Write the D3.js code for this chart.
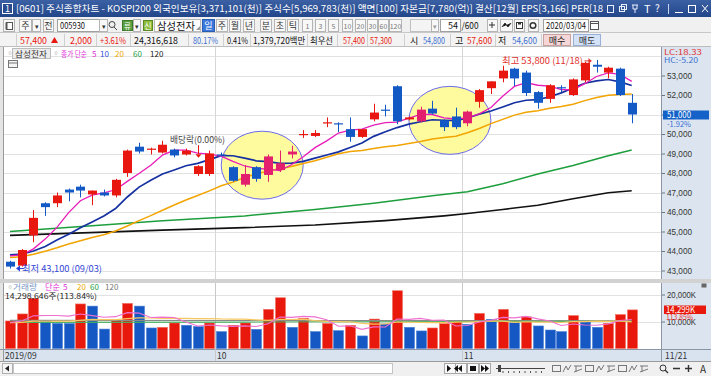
<!DOCTYPE html>
<html>
<head>
<meta charset="utf-8">
<script src="https://cdn.jsdelivr.net/npm/d3@7"></script>
<style>
  body { margin: 0; background: #fff; }
  svg text { font-family: "Noto Sans CJK KR", "Liberation Sans", sans-serif; }
</style>
</head>
<body>
<div id="chart"></div>
<script>
// daily candles 2019/09/03 - 2019/11/21 (005930)
var opens  = [43450,43250,44800,46450,46450,47150,47300,46900,47000,46850,48000,49350,49200,49050,49200,48950,47950,47950,48950,48300,
              47400,48300,47900,48150,48950,49950,49900,50550,50550,50250,49850,50750,51250,52450,50750,50650,51300,50700,50900,50550,
              51650,52350,52850,53350,53150,52150,51800,52400,52000,52750,53550,53150,53350,51600];
var highs  = [43500,44100,46100,46500,47000,47200,47400,47100,47150,47700,49200,49550,49300,49650,49250,49250,48400,49150,49050,48350,
              48400,48350,48950,49150,49400,50200,50200,50850,50600,50850,50250,51550,51500,52500,50900,51400,51700,50750,51350,51200,
              52300,52700,53500,53400,53250,52200,52550,52500,52850,53700,53800,53450,53400,52050];
var lows   = [43100,43200,44450,45800,46250,46550,46750,46350,46800,46750,47800,49000,48950,49000,48800,48900,47850,47850,48850,47550,
              47300,47550,47550,48050,48750,49800,49850,50350,50100,49600,49800,50650,50900,50500,50700,50600,51000,50150,50250,50400,
              51350,52050,52650,52450,51950,51300,51600,52150,51950,52650,53150,52850,51950,50550];
var closes = [43200,44050,45700,46250,46850,47000,47100,47100,46850,47650,49150,49100,49250,49450,48900,49150,48350,49000,48900,47600,
              47950,47700,48850,48500,49100,50000,50050,50600,50500,49850,50250,51100,51200,50650,50850,51250,51050,50350,50350,51150,
              52250,52700,53250,52850,52100,51600,52500,52350,52800,53650,53450,53400,52000,51000];
// volume, thousand shares
var volumes = [10200,12800,18600,10100,9300,9250,16500,15700,7200,10300,16700,15700,7600,7850,9450,8600,8100,9450,6250,8600,
               9450,7100,14500,18800,7850,11200,6250,9300,6600,8600,4650,10900,9100,21400,7850,6500,7600,9200,10400,8950,
               13000,10800,14500,9550,11700,8350,6850,6250,12200,9800,7850,9300,12560,14299];
// sessions before the window (estimated), only used to seed the short averages
var priorCloses  = [43150,43300,43050,43400,43150,43600,43900,44000,43750,44000,43700,44050,43900,43600,44000,43800,44150,43750,43850];
var priorVolumes = [11200,9800,10500,8900,9400,10100,9300,9000,9850,9600,9500,8800,10200,9100,8950,9800,8900,9600,9300];
// long averages: [session index, value]
var ma60Pts  = [[0,45000],[7,45300],[13,45550],[20,45800],[26,46130],[31,46450],[36,46830],[39,47040],[42,47450],[45,47950],[48,48380],[51,48880],[53,49180]];
var ma120Pts = [[0,44800],[13,45070],[20,45200],[26,45330],[32,45560],[37,45800],[39,45920],[42,46130],[45,46350],[48,46680],[51,46990],[53,47090]];
var volMa60Pts  = [[0,9700],[20,9800],[40,10000],[53,10100]];
var volMa120Pts = [[0,10450],[27,10350],[53,10250]];

var monthTicks = [{i:0, label:"2019/09"}, {i:18, label:"10"}, {i:39, label:"11"}];
var lastDate = "11/21";
var priceGrid = [43000,44000,45000,46000,47000,48000,49000,50000,51000,52000,53000,54000];
var priceLabels = [43000,44000,45000,46000,47000,48000,49000,50000,52000,53000];
var volLabels = [10000,20000];
var highlights = [{i:21.5, p:48400}, {i:37.5, p:50700}];
var lowMark = {i:0, p:43100, text:"최저 43,100 (09/03)"};
var highMark = {i:50, p:53800, text:"최고 53,800 (11/18)"};
var exDiv = {i:16, text:"배당락(0.00%)"};

var W = 711, H = 376;
var RED = "#e8170f", BLUE = "#1259c6", PINK = "#e3206e";

var svg = d3.select("#chart").append("svg")
  .attr("width", W).attr("height", H);

function label(g, x, y, s, o) {
  o = o || {};
  var t = g.append("text")
    .attr("x", x).attr("y", y)
    .attr("font-size", o.size || 9)
    .attr("fill", o.color || "#222")
    .attr("text-anchor", o.anchor || "start")
    .text(s);
  if (o.w) t.attr("textLength", o.w).attr("lengthAdjust", "spacingAndGlyphs");
  if (o.bold) t.attr("font-weight", "bold");
  return t;
}
function rect(g, x, y, w, h, fill, stroke) {
  return g.append("rect").attr("x", x).attr("y", y).attr("width", w).attr("height", h)
    .attr("fill", fill || "none").attr("stroke", stroke || "none");
}
function hline(g, x1, x2, y, c) {
  return g.append("line").attr("x1", x1).attr("x2", x2).attr("y1", y).attr("y2", y).attr("stroke", c);
}
function vline(g, x, y1, y2, c) {
  return g.append("line").attr("x1", x).attr("x2", x).attr("y1", y1).attr("y2", y2).attr("stroke", c);
}

// ---------- window title ----------
var grad = svg.append("defs").append("linearGradient").attr("id", "tg")
  .attr("x1", 0).attr("x2", 0).attr("y1", 0).attr("y2", 1);
grad.append("stop").attr("offset", 0).attr("stop-color", "#3c60a4");
grad.append("stop").attr("offset", 1).attr("stop-color", "#23468a");
rect(svg, 0, 0, W, 17, "url(#tg)");
rect(svg, 2.5, 3.5, 10, 10, "#2a4c8e", "#fff");
label(svg, 7.5, 12, "1", {color:"#fff", size:9, anchor:"middle"});
label(svg, 16, 12, "[0601] 주식종합차트 - KOSPI200 외국인보유[3,371,101(천)] 주식수[5,969,783(천)] 액면[100] 자본금[7,780(억)] 결산[12월] EPS[3,166] PER[18",
  {color:"#fff", size:9.5, w:587});
var ic = svg.append("g").attr("stroke", "#fff").attr("fill", "none");
rect(ic, 607.5, 5.5, 6, 7, "none", "#e8eefc");
rect(ic, 619.5, 6.5, 5, 5, "none", "#e8eefc"); rect(ic, 621.5, 4.5, 5, 5, "none", "#e8eefc");
ic.append("path").attr("d", "M632,5 L638,5 M633,5 L633,9 L637,9 L637,5 M635,9 L635,13").attr("stroke", "#e8eefc");
label(svg, 644, 13, "T", {color:"#fff", size:11});
label(svg, 655, 12, "?", {color:"#fff", size:10});
vline(svg, 668.5, 4, 14, "#c8d4ee");
hline(svg, 675, 683, 12.5, "#fff");
rect(svg, 688.5, 5.5, 7, 7, "none", "#fff");
ic.append("path").attr("d", "M702,5 L708,12 M708,5 L702,12");

// ---------- toolbar ----------
rect(svg, 0, 17, W, 16, "#f0f0f0");
hline(svg, 0, W, 32.5, "#c8c8c8");
var tb = svg.append("g");
function btn(x, w, s, o) {
  o = o || {};
  rect(tb, x + 0.5, 19.5, w, 12, o.fill || "#f8f8f8", o.stroke || "#b4b4b4");
  if (s) label(tb, x + w / 2 + 0.5, 29, s, {anchor:"middle", size:o.size || 9, color:o.color || "#333"});
}
btn(3, 11, "");
rect(tb, 6.5, 22.5, 6, 7, "#fff", "#555"); rect(tb, 5.5, 22.5, 2, 7, "#555");
btn(19, 12, "주"); btn(32, 8, "▾", {size:7});
btn(43, 10, "전");
rect(tb, 57.5, 19.5, 50, 12, "#fff", "#a0a0a0");
label(tb, 60, 29, "005930", {size:9, color:"#111", w:25});
btn(99, 8, "▾", {size:7});
tb.append("circle").attr("cx", 112).attr("cy", 24.5).attr("r", 3).attr("fill", "none").attr("stroke", "#444");
tb.append("line").attr("x1", 114).attr("y1", 27).attr("x2", 117).attr("y2", 30).attr("stroke", "#444");
rect(tb, 122.5, 20.5, 10, 10, "#5aa040", "#3c7a2a");
label(tb, 127.5, 29, "류", {anchor:"middle", size:7.5, color:"#fff"});
btn(133, 7, "▾", {size:7});
rect(tb, 143.5, 20.5, 9, 10, "#8cbc3c", "#5c8a20");
label(tb, 148, 29, "신", {anchor:"middle", size:8, color:"#fff"});
rect(tb, 154.5, 19.5, 46, 12, "#fff", "#b8b8b8");
label(tb, 157, 29.5, "삼성전자", {size:10, color:"#111", w:38});
tb.append("path").attr("d", "M196,30 L200,26 L200,30 Z").attr("fill", "#999");
btn(202, 12, "일", {fill:"#3a78dc", stroke:"#2a5cb0", color:"#fff"});
[["주",216],["월",229],["년",243],["분",260],["초",274],["틱",287]].forEach(function(b) { btn(b[1], 11, b[0], {size:9}); });
[["1",302],["3",315],["5",328],["10",342],["20",355],["30",367],["60",378],["120",389]].forEach(function(b) {
  btn(b[1], b[0].length > 2 ? 12 : 10, b[0], {size:7, color:"#777"});
});
rect(tb, 410.5, 19.5, 21, 12, "#f4f4f4", "#c0c0c0");
btn(431, 7, "▾", {size:7, color:"#999"});
rect(tb, 440.5, 19.5, 20, 12, "#fff", "#a0a0a0");
label(tb, 458, 29, "54", {anchor:"end", size:9, color:"#111"});
label(tb, 461.5, 29, "/600", {size:9, color:"#111", w:17});
btn(487, 10, ""); btn(500, 12, ""); btn(514, 10, ""); btn(528, 10, "");
tb.append("path").attr("d", "M489,25 L495,25 M492,22 L492,28 M502,27 L505,23 L508,27 L511,23").attr("stroke", "#333");
rect(tb, 516.5, 22.5, 6, 6, "none", "#333"); rect(tb, 518, 22.5, 3, 2, "#333");
tb.append("circle").attr("cx", 533).attr("cy", 25.5).attr("r", 2.8).attr("fill", "none").attr("stroke", "#333").attr("stroke-width", 1.5);
rect(tb, 543.5, 19.5, 45, 12, "#fff", "#a0a0a0");
label(tb, 546, 29, "2020/03/04", {size:9, color:"#111", w:40});
rect(tb, 590.5, 21.5, 8, 8, "#fff", "#555"); hline(tb, 591, 598, 23.5, "#555");

// ---------- quote row ----------
rect(svg, 0, 33, W, 14, "#f3f3f3");
hline(svg, 0, W, 46.5, "#bdbdbd");
var qr = svg.append("g");
[16, 64, 96, 130, 188, 223, 250, 307, 337, 367, 404, 450, 495, 541].forEach(function(x) { vline(qr, x + 0.5, 34, 46, "#d0d0d0"); });
label(qr, 20, 43.5, "57,400", {color:RED, size:9, w:27});
qr.append("path").attr("d", "M51,43 L58,43 L54.5,37 Z").attr("fill", RED);
label(qr, 70, 43.5, "2,000", {color:RED, size:9, w:22});
label(qr, 100, 43.5, "+3.61%", {color:RED, size:9, w:26});
label(qr, 134, 43.5, "24,316,618", {color:"#111", size:9, w:44});
label(qr, 193, 43.5, "80.17%", {color:"#3b6fd0", size:9, w:25});
label(qr, 227, 43.5, "0.41%", {color:"#111", size:9, w:21});
label(qr, 253, 43.5, "1,379,720백만", {color:"#111", size:9, w:52});
label(qr, 310, 43.5, "최우선", {color:"#111", size:9, w:23});
label(qr, 343, 43.5, "57,400", {color:RED, size:9, w:22});
label(qr, 370, 43.5, "57,300", {color:RED, size:9, w:22});
label(qr, 410, 43.5, "시", {color:"#111", size:9});
label(qr, 423, 43.5, "54,800", {color:"#3b6fd0", size:9, w:22});
label(qr, 455, 43.5, "고", {color:"#111", size:9});
label(qr, 467, 43.5, "57,600", {color:RED, size:9, w:25});
label(qr, 498, 43.5, "저", {color:"#111", size:9});
label(qr, 512, 43.5, "54,600", {color:"#3b6fd0", size:9, w:25});
rect(qr, 543.5, 34.5, 27, 11, "#f6d6d6", "#c8a0a0");
label(qr, 557, 43.5, "매수", {anchor:"middle", color:"#222", size:9});
rect(qr, 573.5, 34.5, 27, 11, "#d4e2f8", "#9ab0d8");
label(qr, 587, 43.5, "매도", {anchor:"middle", color:"#222", size:9});

// ---------- chart frame ----------
var plotL = 4, plotR = 661, priceTop = 47, priceBot = 279, volTop = 283, volBot = 349.5, axTop = 350, axBot = 361;
rect(svg, 0, 47, W, 314, "#fff");
rect(svg, 0, 47, plotL, 314, "#e4e4e4");
vline(svg, plotL - 0.5, 47, 361, "#9a9a9a");
rect(svg, plotR + 1, 47, W - plotR - 1, 303, "#dce5ef");
vline(svg, plotR + 0.5, 47, 361, "#8a96a6");
rect(svg, 0, priceBot, W, volTop - priceBot, "#d2d2d2");
rect(svg, plotL, axTop, plotR - plotL, axBot - axTop, "#d9e3ef");
rect(svg, plotR + 1, axTop, W - plotR - 1, axBot - axTop, "#d9e3ef");
hline(svg, 0, W, axTop - 0.5, "#8a96a6");
hline(svg, 0, W, axBot + 0.5, "#9a9a9a");

var x = d3.scaleLinear().domain([0, closes.length - 1]).range([10, 631.7]);
var step = x(1) - x(0);
var y = d3.scaleLinear().domain([43000, 54000]).range([270.5, 56]);
var vy = d3.scaleLinear().domain([0, 20000]).range([348.5, 294.5]);

// grid
var grid = svg.append("g");
priceGrid.forEach(function(p) { hline(grid, plotL, plotR, Math.round(y(p)) + 0.5, "#e2e2e2"); });
volLabels.forEach(function(v) { hline(grid, plotL, plotR, Math.round(vy(v)) + 0.5, "#e2e2e2"); });
monthTicks.slice(1).forEach(function(m) {
  var mx = Math.round(x(m.i) - step / 2) + 0.5;
  vline(grid, mx, 47, priceBot, "#d6d6d6");
  vline(grid, mx, volTop, axBot, "#c8c8c8");
});

// right axes
var yAxis = d3.axisRight(y).tickValues(priceGrid.slice(0, -1)).tickSize(3)
  .tickFormat(function(d) { return priceLabels.indexOf(d) >= 0 ? d3.format(",")(d) : ""; });
var ya = svg.append("g").attr("transform", "translate(" + (plotR + 1) + ",0)").call(yAxis);
ya.select(".domain").remove();
ya.selectAll("line").attr("stroke", "#6a7686");
ya.selectAll("text").filter(function(d) { return priceLabels.indexOf(d) >= 0; })
  .attr("x", 5).attr("fill", "#333").attr("font-size", 8.5)
  .attr("textLength", 25).attr("lengthAdjust", "spacingAndGlyphs").style("font-family", "Liberation Sans, Arial, sans-serif");

var vAxis = d3.axisRight(vy).tickValues(volLabels).tickSize(3)
  .tickFormat(function(d) { return d3.format(",")(d) + "K"; });
var va = svg.append("g").attr("transform", "translate(" + (plotR + 1) + ",0)").call(vAxis);
va.select(".domain").remove();
va.selectAll("line").attr("stroke", "#6a7686");
va.selectAll("text").attr("x", 5).attr("fill", "#333").attr("font-size", 8.5)
  .attr("textLength", 29).attr("lengthAdjust", "spacingAndGlyphs").style("font-family", "Liberation Sans, Arial, sans-serif");
rect(svg, 701.5, 283.5, 5, 4, "#666");

label(svg, 664, 54.5, "LC:18.33", {color:"#e03030", size:7.5, w:38});
label(svg, 664, 62.5, "HC:-5.20", {color:"#3b6fd0", size:7.5, w:34});

// ---------- price panel ----------
var pricePanel = svg.append("g");
svg.append("clipPath").attr("id", "pclip").append("rect")
  .attr("x", plotL).attr("y", priceTop).attr("width", plotR - plotL).attr("height", priceBot - priceTop);
pricePanel.attr("clip-path", "url(#pclip)");

var RX = 41, RY = 34;
pricePanel.selectAll(".hl").data(highlights).enter().append("ellipse")
  .attr("class", "hl")
  .attr("cx", function(d) { return x(d.i); })
  .attr("cy", function(d) { return y(d.p); })
  .attr("rx", RX).attr("ry", RY)
  .attr("fill", "#fdfb9e").attr("stroke", "#6b6bea").attr("stroke-width", 1);

function inHighlight(i, p) {
  return highlights.some(function(h) {
    var dx = (x(i) - x(h.i)) / RX, dy = (y(p) - y(h.p)) / RY;
    return dx * dx + dy * dy < 1;
  });
}

function movingAvg(vals, prior, n) {
  var all = prior.concat(vals);
  return vals.map(function(v, i) {
    var end = prior.length + i + 1;
    return d3.mean(all.slice(end - n, end));
  });
}
var ma5 = movingAvg(closes, priorCloses, 5);
var ma10 = movingAvg(closes, priorCloses, 10);
var ma20 = movingAvg(closes, priorCloses, 20);

var line = d3.line().x(function(d) { return x(d[0]); }).y(function(d) { return y(d[1]); });
function series(arr) { return arr.map(function(v, i) { return [i, v]; }); }

pricePanel.append("path").attr("d", line(ma120Pts)).attr("fill", "none").attr("stroke", "#111").attr("stroke-width", 1.6);
pricePanel.append("path").attr("d", line(ma60Pts)).attr("fill", "none").attr("stroke", "#1d9e3c").attr("stroke-width", 1.5);
pricePanel.append("path").attr("d", line(series(ma20))).attr("fill", "none").attr("stroke", "#f2a400").attr("stroke-width", 1.5);
pricePanel.append("path").attr("d", line(series(ma10))).attr("fill", "none").attr("stroke", "#1530a0").attr("stroke-width", 1.7);
pricePanel.append("path").attr("d", line(series(ma5))).attr("fill", "none").attr("stroke", "#e81cb8").attr("stroke-width", 1.3);

var bars = closes.map(function(c, i) {
  return {i:i, o:opens[i], h:highs[i], l:lows[i], c:c, v:volumes[i]};
});
function candleColor(d) {
  if (d.c >= d.o) return inHighlight(d.i, (d.o + d.c) / 2) ? PINK : RED;
  return BLUE;
}
var candle = pricePanel.selectAll(".candle").data(bars).enter().append("g").attr("class", "candle");
candle.append("line")
  .attr("x1", function(d) { return Math.round(x(d.i)) + 0.5; })
  .attr("x2", function(d) { return Math.round(x(d.i)) + 0.5; })
  .attr("y1", function(d) { return y(d.h); })
  .attr("y2", function(d) { return y(d.l); })
  .attr("stroke", candleColor);
candle.append("rect")
  .attr("x", function(d) { return Math.round(x(d.i)) - 4; })
  .attr("width", 9)
  .attr("y", function(d) { return y(Math.max(d.o, d.c)); })
  .attr("height", function(d) { return Math.max(1.2, Math.abs(y(d.o) - y(d.c))); })
  .attr("fill", candleColor);

// annotations
var ex = pricePanel.append("g");
var exX = Math.round(x(exDiv.i)) + 0.5, exY = y(highs[exDiv.i]) - 11;
vline(ex, exX, exY - 9, exY, RED);
ex.append("path").attr("d", "M" + (exX - 3) + "," + exY + " L" + (exX + 3) + "," + exY + " L" + exX + "," + (exY + 3.5) + " Z").attr("fill", RED);
label(ex, 170, 143, exDiv.text, {size:9, color:"#444", w:55});

var lx = x(lowMark.i) + 6, ly = y(lowMark.p);
pricePanel.append("path").attr("d", "M" + lx + "," + ly + " l4,-3 l0,6 Z").attr("fill", "#2a3fd6");
hline(pricePanel, lx + 3, lx + 8, ly, "#2a3fd6");
label(pricePanel, 22, ly + 3, lowMark.text, {size:9, color:"#3548d8", w:80});

var hx = x(highMark.i) - 5, hy = y(highMark.p) + 1;
label(pricePanel, 502, hy + 3.5, highMark.text, {size:9, color:"#e0302a", w:81});
hline(pricePanel, hx - 7, hx, hy, "#e0302a");
pricePanel.append("path").attr("d", "M" + hx + "," + hy + " l-3,-3 l0,6 Z").attr("fill", "#e0302a");

// legend
label(svg, 6, 56, "▫", {size:8, color:"#777"});
rect(svg, 12.5, 48.5, 38, 10, "#ececec", "#bcbcbc");
label(svg, 15, 57, "삼성전자", {size:8.5, color:"#333", w:32});
label(svg, 52, 56, "▫", {size:8, color:"#777"});
label(svg, 61, 57, "종가 단순", {size:8, color:"#e030d8", w:26});
label(svg, 92, 57, "5", {size:8, color:"#e030d8"});
label(svg, 100, 57, "10", {size:8, color:"#3050e0"});
label(svg, 115, 57, "20", {size:8, color:"#f0a800"});
label(svg, 133, 57, "60", {size:8, color:"#20a040"});
label(svg, 150, 57, "120", {size:8, color:"#222"});
rect(svg, 8.5, 60.5, 9, 7, "#f4f4f4", "#777");
hline(svg, 9, 17, 63, "#777");

// current price tag
var cp = closes[closes.length - 1];
rect(svg, 663, Math.round(y(cp)) - 4.5, 46, 9, "#1462c8");
label(svg, 667, y(cp) + 3.5, d3.format(",")(cp), {size:8.5, color:"#fff", w:24});
var chg = (cp / closes[closes.length - 2] - 1) * 100;
label(svg, 667, y(cp) + 12, chg.toFixed(2) + "%", {size:8, color:"#3a70d8", w:24});

// ---------- volume panel ----------
var volPanel = svg.append("g");
function volUp(d, i) {
  var prev = i ? volumes[i - 1] : priorVolumes[priorVolumes.length - 1];
  return d.v >= prev;
}
volPanel.selectAll(".vbar").data(bars).enter().append("rect")
  .attr("class", "vbar")
  .attr("x", function(d) { return Math.round(x(d.i)) - 4.5; })
  .attr("width", 10)
  .attr("y", function(d) { return vy(d.v); })
  .attr("height", function(d) { return vy(0) - vy(d.v); })
  .attr("fill", function(d, i) { return volUp(d, i) ? "#e8190c" : "#1558c4"; })
  .attr("stroke", function(d, i) { return volUp(d, i) ? "#f27060" : "#4a80d8"; })
  .attr("stroke-width", 0.6);

var vline2 = d3.line().x(function(d) { return x(d[0]); }).y(function(d) { return vy(d[1]); });
var vma5 = movingAvg(volumes, priorVolumes, 5);
var vma20 = movingAvg(volumes, priorVolumes, 20);
volPanel.append("path").attr("d", vline2(volMa120Pts)).attr("fill", "none").attr("stroke", "#8a8a8a").attr("stroke-width", 1.2);
volPanel.append("path").attr("d", vline2(volMa60Pts)).attr("fill", "none").attr("stroke", "#48b060").attr("stroke-width", 1.2);
volPanel.append("path").attr("d", vline2(series(vma20))).attr("fill", "none").attr("stroke", "#f8c860").attr("stroke-width", 1.2);
volPanel.append("path").attr("d", vline2(series(vma5))).attr("fill", "none").attr("stroke", "#f070d0").attr("stroke-width", 1.1);

label(svg, 6, 289.5, "▫", {size:8, color:"#777"});
label(svg, 13, 289.5, "거래량", {size:8, color:"#7a94c8", w:24});
label(svg, 45, 289.5, "단순", {size:8, color:"#e030d8", w:15});
label(svg, 63, 289.5, "5", {size:8, color:"#e030d8"});
label(svg, 77, 289.5, "20", {size:8, color:"#f0a800"});
label(svg, 90, 289.5, "60", {size:8, color:"#20a040"});
label(svg, 105, 289.5, "120", {size:8, color:"#777"});
label(svg, 5, 298.5, "14,298,646주(113.84%)", {size:8, color:"#222", w:92});

var lv = volumes[volumes.length - 1];
rect(svg, 664, Math.round(vy(lv)) - 4.5, 42, 8.5, "#e8190c");
label(svg, 666, vy(lv) + 3, d3.format(",")(lv) + "K", {size:8.5, color:"#fff", w:29});
label(svg, 666, vy(lv) + 10.5, (lv / volumes[volumes.length - 2] * 100).toFixed(2) + "%", {size:8, color:"#e83030", w:27});

// ---------- date axis ----------
monthTicks.forEach(function(m) {
  var mx = m.i === 0 ? 5 : Math.round(x(m.i) - step / 2) + 2;
  label(svg, mx, 358.5, m.label, {size:8.5, color:"#333"});
});
label(svg, 665, 358.5, lastDate, {size:8.5, color:"#333"});

// ---------- bottom bar ----------
rect(svg, 0, 362, W, 14, "#f0f0f0");
rect(svg, 2.5, 363.5, 10, 10, "#f6f6f6", "#b0b0b0");
svg.append("path").attr("d", "M5,368.5 L9,365.5 L9,371.5 Z").attr("fill", "#222");
rect(svg, 13.5, 363.5, 379, 10, "#fff", "#c4c4c4");
var bb = svg.append("g");
[[444, "M447,365 L451,368.5 L447,372 Z"], [455, "M462,365 L458,368.5 L462,372 Z M458,365 L454,368.5 L458,372 Z"],
 [467, "M470,366 L476,366 L476,371 L470,371 Z"], [479, "M481,365 L485,368.5 L481,372 Z M485,365 L489,368.5 L485,372 Z"]].forEach(function(b) {
  rect(bb, b[0] + 0.5, 363.5, 11, 10, "#f8f8f8", "#a8a8a8");
  bb.append("path").attr("d", b[1]).attr("fill", "#111");
});
hline(bb, 496, 545, 368.5, "#444");
rect(bb, 498, 365, 3, 7, "#444");
d3.range(8).forEach(function(k) { vline(bb, 503 + k * 5.5, 371, 373, "#555"); });
var icons = bb.append("g").attr("fill", "none").attr("stroke", "#777");
[552, 563, 574, 585, 596, 607, 618, 629, 640].forEach(function(ix, k) {
  if (k % 3 === 0) { rect(icons, ix + 0.5, 365.5, 8, 6, "none", "#777"); }
  else if (k % 3 === 1) { icons.append("path").attr("d", "M" + ix + ",372 L" + (ix + 3) + ",366 L" + (ix + 5) + ",370 L" + (ix + 8) + ",365"); }
  else { icons.append("path").attr("d", "M" + ix + ",366 L" + (ix + 8) + ",366 M" + (ix + 2) + ",366 L" + (ix + 2) + ",372 M" + ix + ",372 L" + (ix + 8) + ",369"); }
});
icons.append("circle").attr("cx", 663).attr("cy", 368).attr("r", 3).attr("stroke", "#333");
icons.append("path").attr("d", "M665,370 L668,373 M673,368.5 L680,368.5 M685,368.5 L692,368.5 M688.5,365 L688.5,372").attr("stroke", "#333").attr("stroke-width", 1.4);
label(svg, 700, 373, "A", {size:10, color:"#333"});
</script>
</body>
</html>
